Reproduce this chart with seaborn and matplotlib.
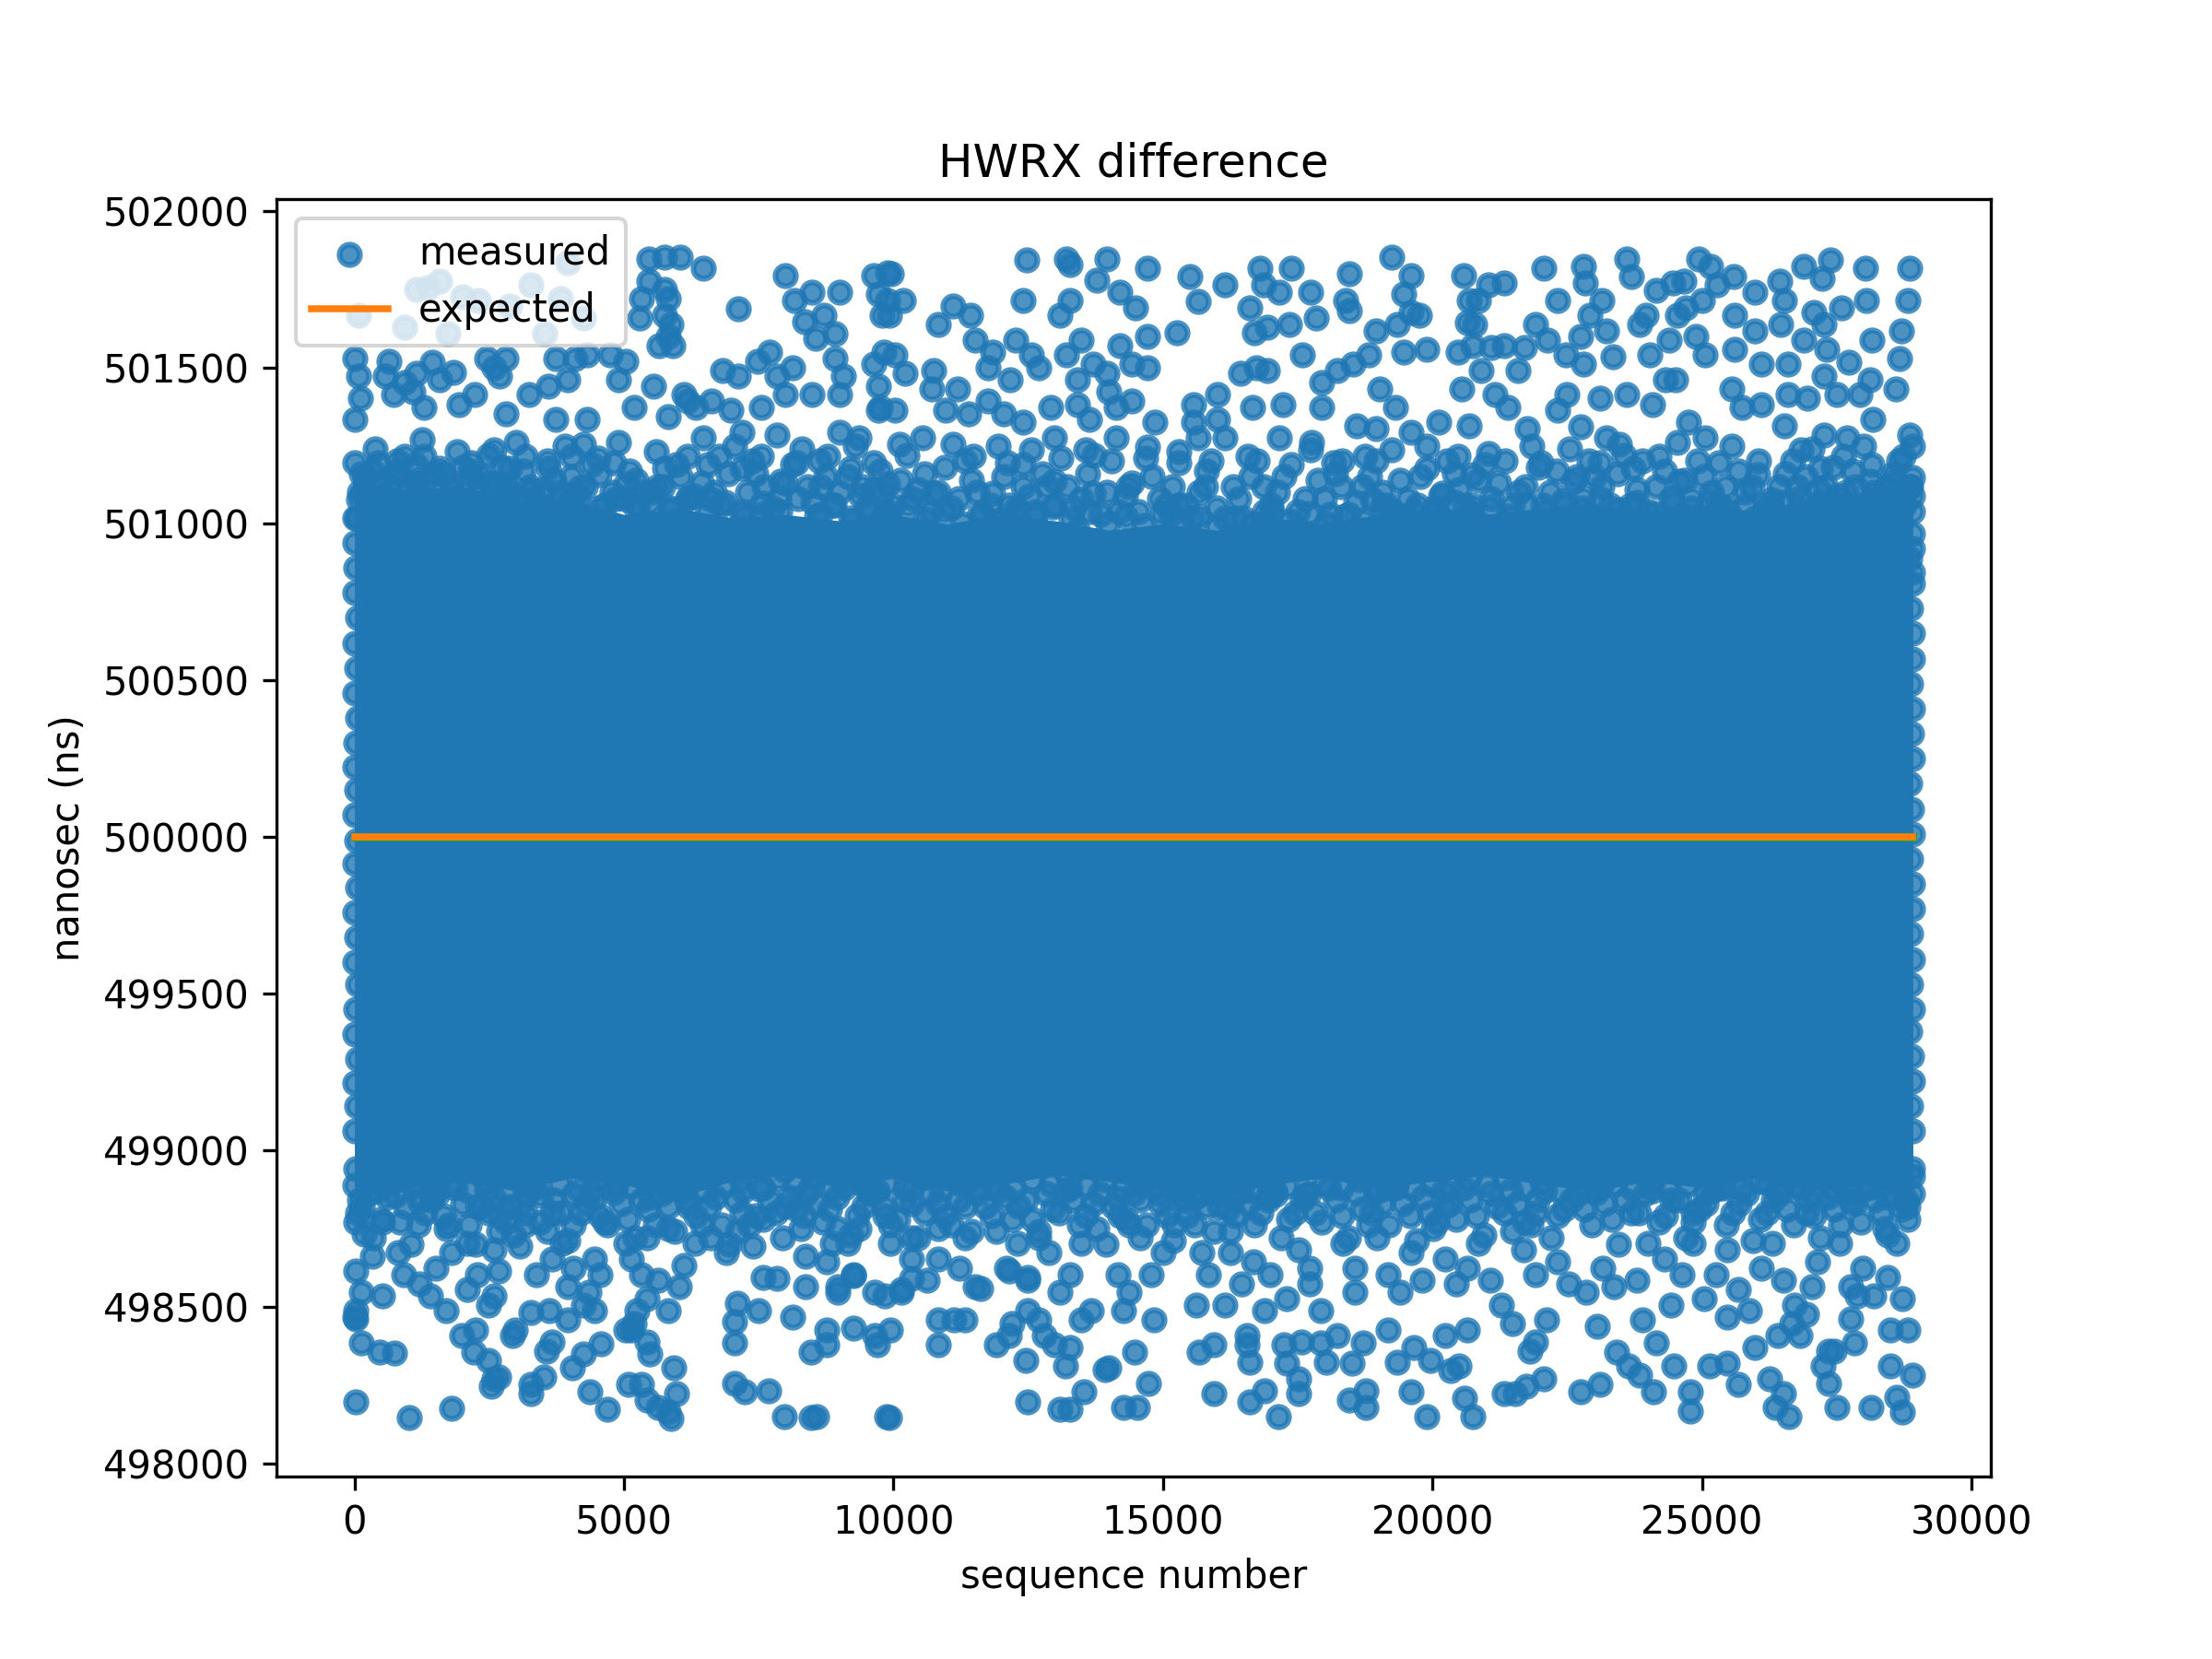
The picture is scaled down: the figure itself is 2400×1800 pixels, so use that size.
import pandas as pd
import seaborn as sns
import matplotlib.pyplot as plt

# HWRX difference: ~28900 samples.
# The solid middle of the cloud is kept as an envelope (seq, low, high),
# the loose points around it as (seq, ns) pairs.

core_seq = [0, 1000, 2000, 3000, 4000, 5000, 6000, 7000, 8000, 9000,
            10000, 11000, 12000, 13000, 14000, 15000, 16000, 17000, 18000,
            19000, 20000, 21000, 22000, 23000, 24000, 25000, 26000, 27000,
            28000, 28915]
core_high = [501130, 501110, 501120, 501070, 501080, 501030, 501050, 501020,
             501030, 501010, 501030, 501000, 501030, 501010, 500980, 501000,
             500980, 501020, 501000, 501030, 501050, 501030, 501050, 501060,
             501040, 501060, 501040, 501080, 501100, 501120]
core_low = [498850, 498880, 498900, 498870, 498910, 498890, 498850, 498900,
            498920, 498880, 498910, 498870, 498890, 498920, 498900, 498870,
            498850, 498890, 498910, 498880, 498900, 498920, 498890, 498870,
            498900, 498880, 498910, 498870, 498890, 498850]

top_sparse = [
    (5469, 501847), (5757, 501852), (6045, 501852), (6477, 501818),
    (5469, 501774), (5757, 501750), (5829, 501720), (5325, 501720),
    (5289, 501657), (5757, 501666), (5865, 501637), (5829, 501598),
    (5649, 501568), (5901, 501568), (7124, 501686), (7988, 501794),
    (8168, 501715), (8492, 501740), (8996, 501740), (8348, 501647),
    (8708, 501666), (8564, 501593), (8924, 501608), (9643, 501794),
    (9715, 501735), (9787, 501666), (1583, 501774), (1151, 501750),
    (1367, 501754), (2015, 501725), (2302, 501715), (2878, 501696),
    (3274, 501764), (3814, 501720), (71, 501666), (935, 501627),
    (1727, 501608), (3526, 501608), (4246, 501657), (3958, 501833),
    (12482, 501843), (13202, 501847), (13274, 501828), (13957, 501847),
    (14713, 501818), (15505, 501789), (16152, 501764), (16800, 501818),
    (17376, 501818), (18455, 501798), (19247, 501852), (19607, 501794),
    (20578, 501794), (12410, 501715), (13274, 501715), (13094, 501666),
    (13777, 501779), (14209, 501740), (14497, 501691), (15649, 501710),
    (17160, 501740), (16872, 501764), (17736, 501740), (17843, 501657),
    (18383, 501715), (18455, 501681), (19463, 501735), (19607, 501676),
    (20686, 501715), (20650, 501642), (9891, 501803), (9963, 501798),
    (9891, 501715), (10179, 501715), (9927, 501666), (10827, 501637),
    (11114, 501696), (11438, 501666), (15253, 501612), (16620, 501691),
    (16692, 501612), (16944, 501627), (17340, 501637), (18959, 501617),
    (19355, 501637), (19751, 501666), (22072, 501818), (22805, 501823),
    (23599, 501847), (23691, 501789), (24943, 501847), (25157, 501823),
    (25584, 501789), (25981, 501740), (26439, 501774), (26897, 501823),
    (27386, 501843), (27233, 501784), (28027, 501818), (28851, 501818),
    (28057, 501715), (28821, 501715), (22317, 501715), (22836, 501769),
    (23141, 501715), (24149, 501745), (24454, 501769), (24668, 501774),
    (25004, 501715), (25279, 501764), (26531, 501715), (27080, 501676),
    (27599, 501691), (25615, 501666), (23844, 501637), (23966, 501666),
    (24546, 501666), (24698, 501691), (22927, 501666), (21920, 501637),
    (20851, 501715), (21034, 501764), (21340, 501769), (20790, 501637),
]

top_mid = [
    (0, 501529), (71, 501471), (107, 501402), (0, 501334), (647, 501520),
    (575, 501471), (719, 501412), (935, 501451), (1439, 501515),
    (1835, 501485), (1583, 501461), (1151, 501480), (1079, 501422),
    (1295, 501373), (2446, 501529), (2590, 501500), (2806, 501529),
    (2698, 501471), (1943, 501382), (2231, 501412), (3238, 501412),
    (3598, 501441), (3958, 501461), (3742, 501529), (4102, 501529),
    (4318, 501539), (4749, 501539), (5037, 501520), (4893, 501461),
    (5541, 501441), (6117, 501412), (6333, 501373), (6621, 501392),
    (6980, 501363), (6837, 501490), (7124, 501471), (7484, 501520),
    (7700, 501549), (7844, 501471), (7988, 501412), (7556, 501373),
    (8132, 501500), (8924, 501529), (9068, 501471), (8996, 501412),
    (8492, 501412), (9643, 501510), (9715, 501441), (9715, 501363),
    (4318, 501334), (3742, 501334), (2806, 501353), (5181, 501373),
    (5829, 501343), (6189, 501392), (7196, 501294), (7844, 501285),
    (8996, 501294), (9356, 501275), (9819, 501549), (10035, 501539),
    (10215, 501480), (10755, 501490), (10719, 501431), (11186, 501431),
    (11510, 501588), (11834, 501549), (11762, 501500), (12266, 501588),
    (12554, 501539), (12158, 501461), (12698, 501500), (13202, 501539),
    (13489, 501588), (13705, 501510), (13417, 501461), (13993, 501422),
    (14209, 501568), (14713, 501598), (14425, 501510), (14713, 501500),
    (13957, 501480), (15577, 501382), (16008, 501412), (16440, 501480),
    (16728, 501500), (16944, 501490), (17592, 501539), (17951, 501451),
    (18239, 501490), (18527, 501510), (18815, 501539), (19031, 501431),
    (19319, 501373), (19463, 501549), (19895, 501559), (20471, 501549),
    (20758, 501568), (20543, 501431), (9747, 501373), (10035, 501363),
    (10970, 501363), (11402, 501353), (11762, 501392), (12050, 501353),
    (12410, 501324), (12914, 501373), (13417, 501382), (13633, 501334),
    (14137, 501373), (14425, 501392), (14857, 501324), (15577, 501324),
    (16008, 501334), (16656, 501373), (17232, 501382), (17951, 501373),
    (18599, 501314), (18959, 501304), (19607, 501294), (20111, 501324),
    (20686, 501314), (22134, 501588), (22469, 501539), (22805, 501510),
    (22744, 501598), (23233, 501617), (23355, 501534), (21095, 501564),
    (21340, 501568), (21706, 501564), (20912, 501490), (21584, 501490),
    (24027, 501539), (24393, 501588), (24332, 501461), (24515, 501461),
    (24882, 501598), (25065, 501539), (25615, 501559), (25981, 501617),
    (26103, 501510), (26470, 501637), (26592, 501510), (26897, 501588),
    (27263, 501637), (27324, 501559), (27721, 501515), (28149, 501588),
    (28699, 501617), (28668, 501529), (28118, 501461), (28607, 501431),
    (27263, 501471), (25553, 501431), (25737, 501373), (26103, 501382),
    (26592, 501412), (26958, 501402), (27508, 501412), (27935, 501412),
    (28180, 501334), (28851, 501285), (22500, 501412), (22317, 501363),
    (22744, 501309), (23233, 501275), (23477, 501255), (23111, 501402),
    (23599, 501412), (24088, 501382), (24760, 501324), (25065, 501275),
    (26531, 501314), (26836, 501236), (27263, 501285), (27691, 501275),
    (21156, 501412), (21401, 501373), (21767, 501304),
]

top_band = [
    (0, 501196), (215, 501128), (71, 501079), (0, 501020), (431, 501196),
    (719, 501157), (935, 501216), (1295, 501216), (1151, 501128),
    (1583, 501177), (1799, 501079), (2159, 501196), (2302, 501128),
    (2590, 501236), (2878, 501177), (3166, 501216), (3598, 501177),
    (3310, 501108), (4030, 501216), (4246, 501255), (4534, 501157),
    (4821, 501196), (5037, 501128), (5253, 501060), (5613, 501118),
    (5757, 501177), (6189, 501216), (6477, 501275), (6765, 501216),
    (7196, 501177), (7556, 501216), (7916, 501138), (8204, 501196),
    (8636, 501118), (8780, 501216), (9212, 501177), (9427, 501118),
    (9643, 501196), (9787, 501099), (575, 501060), (1439, 501020),
    (2878, 501079), (4030, 501079), (6621, 501079), (7556, 501030),
    (8636, 501030), (9212, 501020), (6117, 501001), (719, 500981),
    (2159, 500981), (10107, 501255), (10539, 501275), (11114, 501255),
    (11474, 501216), (12122, 501196), (12554, 501236), (12986, 501275),
    (13561, 501236), (14137, 501275), (14713, 501245), (15289, 501196),
    (15649, 501275), (16152, 501275), (16584, 501216), (17160, 501275),
    (17736, 501236), (18167, 501196), (18743, 501216), (19247, 501236),
    (19895, 501177), (20471, 501216), (9891, 501128), (10755, 501099),
    (11834, 501099), (12410, 501118), (12986, 501138), (13705, 501099),
    (14353, 501118), (15289, 501060), (15792, 501118), (16872, 501118),
    (18311, 501118), (18887, 501079), (20183, 501099), (20758, 501157),
    (10395, 500981), (11690, 500932), (13417, 500981), (15145, 501030),
    (16872, 501001), (18527, 500981), (20327, 501001), (21034, 501226),
    (22011, 501196), (22622, 501138), (23111, 501196), (23721, 501177),
    (24210, 501216), (24576, 501138), (25309, 501196), (25431, 501118),
    (26042, 501157), (26286, 501079), (26775, 501118), (27202, 501177),
    (27629, 501216), (28118, 501138), (28485, 501079), (28729, 501216),
    (24454, 501001), (22927, 501030), (25981, 501020), (27202, 500981),
    (28118, 500981), (28912, 501147), (28912, 501089), (28912, 501040),
    (28912, 500922), (28912, 500844),
]

top_fill = [
    (200, 501150), (380, 501240), (560, 501090), (800, 501200),
    (1000, 501110), (1250, 501270), (1400, 501080), (1650, 501160),
    (1900, 501230), (2050, 501100), (2350, 501150), (2600, 501070),
    (2750, 501180), (3000, 501260), (3250, 501120), (3450, 501060),
    (3700, 501140), (3900, 501250), (4150, 501090), (4400, 501190),
    (4650, 501060), (4900, 501260), (5100, 501170), (5350, 501100),
    (5600, 501230), (5850, 501050), (6050, 501150), (6300, 501090),
    (6550, 501190), (6800, 501060), (7050, 501250), (7300, 501100),
    (7450, 501160), (7750, 501050), (8000, 501130), (8300, 501240),
    (8500, 501070), (8750, 501150), (9000, 501100), (9300, 501250),
    (9500, 501050), (9750, 501170), (10000, 501060), (10250, 501220),
    (10450, 501110), (10700, 501040), (10950, 501180), (11200, 501080),
    (11450, 501140), (11650, 501030), (11950, 501250), (12150, 501060),
    (12400, 501190), (12650, 501040), (12850, 501120), (13100, 501210),
    (13350, 501050), (13600, 501160), (13850, 501030), (14050, 501200),
    (14300, 501090), (14550, 501040), (14800, 501150), (15050, 501060),
    (15300, 501230), (15550, 501020), (15800, 501170), (16000, 501050),
    (16300, 501120), (16500, 501020), (16750, 501200), (17000, 501060),
    (17250, 501150), (17500, 501040), (17750, 501260), (18000, 501080),
    (18200, 501160), (18450, 501030), (18700, 501120), (18950, 501200),
    (19150, 501060), (19400, 501140), (19650, 501040), (19900, 501250),
    (20150, 501090), (20400, 501160), (20600, 501060), (20850, 501140),
    (21100, 501080), (21350, 501200), (21600, 501100), (21850, 501250),
    (22050, 501060), (22300, 501170), (22550, 501240), (22800, 501080),
    (23000, 501150), (23300, 501060), (23550, 501220), (23800, 501110),
    (24000, 501040), (24300, 501170), (24550, 501260), (24800, 501080),
    (25050, 501150), (25300, 501060), (25550, 501250), (25800, 501100),
    (26050, 501200), (26300, 501050), (26550, 501160), (26800, 501080),
    (27050, 501240), (27300, 501120), (27550, 501060), (27800, 501170),
    (28000, 501250), (28300, 501080), (28550, 501160), (28750, 501060),
    (28915, 501250),
]

top_fill2 = [
    (100, 501100), (330, 501170), (680, 501120), (920, 501060),
    (1130, 501190), (1330, 501130), (1530, 501070), (1780, 501110),
    (2000, 501180), (2200, 501060), (2480, 501220), (2680, 501130),
    (2880, 501100), (3130, 501170), (3350, 501070), (3580, 501200),
    (3800, 501100), (4030, 501150), (4280, 501120), (4530, 501210),
    (4780, 501100), (5000, 501080), (5230, 501140), (5480, 501070),
    (5720, 501120), (5980, 501190), (6180, 501080), (6430, 501130),
    (6680, 501100), (6930, 501160), (7180, 501040), (7380, 501200),
    (7600, 501120), (7880, 501080), (8130, 501190), (8400, 501120),
    (8630, 501200), (8880, 501060), (9150, 501150), (9400, 501090),
    (9630, 501110), (9880, 501040), (10130, 501140), (10350, 501080),
    (10580, 501160), (10830, 501100), (11080, 501050), (11330, 501200),
    (11550, 501100), (11800, 501060), (12050, 501150), (12280, 501030),
    (12530, 501090), (12760, 501160), (12980, 501060), (13230, 501120),
    (13480, 501080), (13730, 501220), (13960, 501100), (14180, 501040),
    (14430, 501130), (14680, 501210), (14930, 501080), (15180, 501120),
    (15430, 501060), (15680, 501100), (15900, 501200), (16150, 501020),
    (16400, 501080), (16630, 501150), (16880, 501040), (17130, 501100),
    (17380, 501190), (17630, 501080), (17880, 501140), (18100, 501030),
    (18330, 501200), (18580, 501070), (18830, 501150), (19080, 501100),
    (19280, 501040), (19530, 501080), (19780, 501150), (20030, 501050),
    (20280, 501200), (20500, 501110), (20730, 501060), (20980, 501190),
    (21230, 501130), (21480, 501060), (21730, 501120), (21960, 501180),
    (22180, 501100), (22430, 501060), (22680, 501150), (22900, 501200),
    (23150, 501120), (23430, 501160), (23680, 501060), (23900, 501200),
    (24150, 501120), (24430, 501080), (24680, 501140), (24930, 501200),
    (25180, 501100), (25430, 501050), (25680, 501170), (25930, 501120),
    (26180, 501060), (26430, 501120), (26680, 501200), (26930, 501150),
    (27180, 501070), (27430, 501180), (27680, 501100), (27900, 501050),
    (28150, 501190), (28430, 501120), (28650, 501200), (28880, 501120),
]

top_edge = [
    (120, 501160), (450, 501130), (800, 501170), (1130, 501140),
    (1480, 501160), (1800, 501120), (2150, 501170), (2480, 501130),
    (2820, 501120), (3150, 501080), (3500, 501110), (3830, 501085),
    (4180, 501115), (4520, 501050), (4850, 501080), (5190, 501060),
    (5530, 501100), (5870, 501045), (6200, 501085), (6540, 501035),
    (6880, 501070), (7220, 501025), (7560, 501065), (7890, 501040),
    (8230, 501080), (8570, 501025), (8900, 501060), (9250, 501010),
    (9580, 501045), (9920, 501020), (10260, 501060), (10600, 501015),
    (10930, 501040), (11270, 501000), (11610, 501035), (11950, 501010),
    (12290, 501050), (12620, 501025), (12960, 501055), (13300, 501015),
    (13640, 501040), (13980, 501000), (14310, 501025), (14650, 500995),
    (14990, 501035), (15330, 501005), (15670, 501025), (16000, 500990),
    (16340, 501020), (16680, 501000), (17020, 501040), (17350, 501010),
    (17700, 501035), (18030, 501000), (18370, 501025), (18710, 501010),
    (19050, 501050), (19390, 501020), (19720, 501060), (20060, 501040),
    (20400, 501070), (20740, 501035), (21080, 501055), (21420, 501025),
    (21750, 501060), (22090, 501040), (22430, 501075), (22770, 501050),
    (23110, 501080), (23450, 501045), (23790, 501070), (24130, 501035),
    (24460, 501065), (24800, 501050), (25140, 501075), (25480, 501040),
    (25820, 501060), (26150, 501030), (26490, 501070), (26830, 501045),
    (27170, 501110), (27510, 501090), (27850, 501120), (28190, 501100),
    (28530, 501135), (28850, 501120),
]

bottom_sparse = [
    (32, 498197), (1014, 498145), (1799, 498175), (131, 498383),
    (474, 498354), (739, 498352), (32, 498461), (32, 498486), (523, 498535),
    (1701, 498486), (2241, 498427), (2212, 498354), (2486, 498329),
    (2585, 498271), (2683, 498276), (2535, 498246), (2928, 498408),
    (2977, 498427), (3272, 498481), (3615, 498486), (3959, 498457),
    (3272, 498251), (3517, 498276), (3272, 498222), (3566, 498359),
    (3664, 498388), (4037, 498305), (4253, 498349), (4567, 498380),
    (4371, 498227), (4695, 498173), (5088, 498251), (5333, 498251),
    (5431, 498202), (5628, 498178), (5824, 498163), (5873, 498143),
    (5971, 498222), (5922, 498305), (5480, 498349), (5039, 498427),
    (5186, 498447), (7100, 498510), (7493, 498486), (7051, 498452),
    (7051, 498383), (7051, 498256), (7247, 498227), (7689, 498231),
    (7983, 498148), (8474, 498145), (8572, 498148), (8131, 498466),
    (8474, 498354), (8769, 498427), (9259, 498432), (8769, 498378),
    (9701, 498378), (9947, 498427), (9848, 498535), (9927, 498145),
    (9880, 498150), (7591, 498594), (7836, 498589), (8376, 498564),
    (8965, 498545), (9259, 498599), (10830, 498457), (11124, 498457),
    (11321, 498457), (10830, 498378), (11910, 498378), (12155, 498408),
    (12450, 498329), (12499, 498486), (12695, 498457), (12990, 498378),
    (13186, 498310), (13284, 498369), (12499, 498197), (13088, 498173),
    (13284, 498173), (13529, 498227), (13922, 498300), (12155, 498613),
    (12499, 498594), (11615, 498559), (10339, 498589), (10143, 498545),
    (9652, 498408), (14264, 498178), (14526, 498178), (14735, 498256),
    (14474, 498354), (14002, 498305), (14840, 498457), (15678, 498354),
    (15939, 498378), (15939, 498222), (16620, 498197), (16882, 498231),
    (17143, 498148), (16620, 498324), (16568, 498378), (17248, 498378),
    (17562, 498388), (17929, 498383), (18243, 498408), (18714, 498383),
    (18504, 498320), (18033, 498324), (17300, 498320), (17510, 498271),
    (17510, 498222), (18452, 498202), (18766, 498231), (18766, 498178),
    (19604, 498227), (19897, 498148), (19342, 498324), (19656, 498369),
    (19970, 498329), (20337, 498295), (20494, 498310), (20598, 498207),
    (20756, 498148), (21331, 498222), (21541, 498222), (21750, 498246),
    (22064, 498271), (21803, 498359), (21907, 498388), (22745, 498227),
    (23111, 498251), (23425, 498354), (23635, 498310), (23844, 498280),
    (24106, 498227), (24158, 498383), (24472, 498310), (24786, 498227),
    (24786, 498168), (25153, 498310), (25467, 498320), (25676, 498251),
    (25991, 498369), (26252, 498271), (26357, 498178), (26619, 498148),
    (26514, 498222), (27247, 498310), (27352, 498256), (27509, 498178),
    (27456, 498359), (27823, 498383), (28137, 498178), (28503, 498310),
    (28608, 498212), (28713, 498163), (28910, 498280), (28451, 498594),
    (27875, 498535), (28189, 498535), (28713, 498525), (28503, 498427),
    (28817, 498427), (27770, 498461), (26933, 498476), (26671, 498447),
]

bottom_band = [
    (0, 498887), (32, 498770), (180, 498731), (32, 498613), (131, 498545),
    (0, 498466), (327, 498662), (818, 498672), (523, 498770), (1112, 498897),
    (1210, 498838), (916, 498603), (1210, 498574), (1407, 498535),
    (1505, 498623), (1799, 498672), (1701, 498750), (2290, 498819),
    (2486, 498799), (2879, 498819), (3174, 498799), (2683, 498740),
    (3174, 498760), (2094, 498701), (2585, 498682), (3075, 498692),
    (2290, 498603), (2683, 498613), (2094, 498554), (2486, 498506),
    (1996, 498408), (2585, 498535), (3370, 498603), (3664, 498652),
    (4057, 498623), (3861, 498701), (3664, 498799), (4057, 498858),
    (4450, 498848), (4646, 498770), (4842, 498887), (4450, 498652),
    (4548, 498603), (4253, 498506), (4351, 498545), (3959, 498564),
    (4450, 498486), (5039, 498701), (5137, 498652), (5431, 498721),
    (5333, 498603), (5628, 498584), (5431, 498525), (5824, 498486),
    (5235, 498486), (5137, 498427), (5431, 498388), (6020, 498564),
    (6118, 498633), (5824, 498750), (6315, 498701), (6609, 498721),
    (6904, 498672), (7198, 498799), (7100, 498740), (7394, 498692),
    (7591, 498780), (7983, 498819), (8278, 498750), (8376, 498662),
    (8867, 498701), (8965, 498750), (8769, 498643), (9161, 498701),
    (9358, 498750), (9848, 498790), (9259, 498603), (8965, 498564),
    (9652, 498545), (10143, 498554), (10339, 498652), (9947, 498701),
    (10339, 498721), (10830, 498750), (11321, 498721), (10830, 498652),
    (11223, 498623), (10634, 498584), (11517, 498564), (11910, 498740),
    (12106, 498623), (12302, 498701), (12695, 498740), (12891, 498672),
    (13284, 498603), (13480, 498701), (13775, 498750), (12499, 498584),
    (13088, 498545), (13677, 498486), (12204, 498447), (12793, 498408),
    (13480, 498457), (7983, 498936), (9358, 498897), (11321, 498897),
    (13284, 498878), (5431, 498897), (1505, 498897), (10339, 498829),
    (8376, 498858), (14159, 498848), (14369, 498760), (14578, 498721),
    (14159, 498603), (14369, 498545), (14264, 498486), (14997, 498672),
    (15206, 498760), (15416, 498838), (15730, 498672), (15835, 498603),
    (16253, 498740), (16253, 498672), (16149, 498506), (16463, 498574),
    (16672, 498643), (16986, 498603), (17300, 498525), (16882, 498486),
    (17510, 498682), (17719, 498623), (17719, 498574), (17929, 498486),
    (18347, 498701), (18557, 498623), (18557, 498545), (18976, 498721),
    (18871, 498799), (19185, 498603), (19394, 498545), (19604, 498672),
    (19813, 498584), (20023, 498750), (20232, 498652), (20441, 498574),
    (20860, 498701), (20651, 498623), (21070, 498584), (21279, 498506),
    (21488, 498740), (21698, 498682), (21907, 498603), (22117, 498457),
    (22326, 498643), (22535, 498574), (22850, 498545), (23164, 498623),
    (23373, 498564), (23792, 498584), (24001, 498701), (24315, 498652),
    (24629, 498603), (24839, 498701), (25048, 498525), (25258, 498603),
    (25467, 498682), (25676, 498554), (25886, 498486), (26095, 498623),
    (26305, 498701), (26514, 498584), (26723, 498506), (27038, 498564),
    (27142, 498643), (27561, 498701), (27770, 498564), (27980, 498623),
    (28399, 498750), (28608, 498701), (28817, 498819), (28910, 498917),
    (28608, 498897), (26200, 498897), (23164, 498897), (19185, 498878),
    (17091, 498858), (27770, 498838), (24839, 498799), (21907, 498799),
    (20232, 498819), (16044, 498819), (26933, 498799), (24420, 498506),
    (23897, 498457), (23059, 498437), (21488, 498447), (20651, 498427),
    (20232, 498408), (19185, 498427), (16568, 498408), (14788, 498603),
    (15625, 498506), (25467, 498466), (26409, 498408), (26828, 498408),
    (27352, 498359),
]

bottom_fill = [
    (150, 498820), (350, 498720), (600, 498850), (850, 498770),
    (1050, 498700), (1300, 498800), (1550, 498860), (1750, 498760),
    (2000, 498830), (2250, 498700), (2450, 498870), (2700, 498790),
    (2950, 498730), (3200, 498860), (3450, 498770), (3700, 498840),
    (3950, 498710), (4200, 498800), (4400, 498870), (4700, 498760),
    (4950, 498830), (5200, 498720), (5450, 498810), (5700, 498860),
    (5950, 498740), (6200, 498820), (6450, 498760), (6700, 498850),
    (6950, 498700), (7200, 498870), (7450, 498790), (7700, 498840),
    (7950, 498720), (8200, 498810), (8450, 498880), (8700, 498770),
    (8950, 498850), (9200, 498730), (9450, 498820), (9700, 498870),
    (9950, 498760), (10200, 498840), (10450, 498720), (10700, 498860),
    (10950, 498790), (11200, 498840), (11450, 498740), (11700, 498820),
    (11950, 498870), (12200, 498780), (12450, 498840), (12700, 498720),
    (12950, 498810), (13200, 498870), (13450, 498760), (13700, 498830),
    (13950, 498700), (14200, 498790), (14450, 498860), (14700, 498760),
    (14950, 498830), (15200, 498710), (15450, 498790), (15700, 498860),
    (15950, 498740), (16200, 498810), (16450, 498870), (16700, 498760),
    (16950, 498840), (17200, 498720), (17450, 498800), (17700, 498860),
    (17950, 498770), (18200, 498840), (18450, 498720), (18700, 498810),
    (18950, 498870), (19200, 498760), (19450, 498830), (19700, 498710),
    (19950, 498800), (20200, 498870), (20450, 498780), (20700, 498840),
    (20950, 498730), (21200, 498820), (21450, 498870), (21700, 498770),
    (21950, 498840), (22200, 498720), (22450, 498810), (22700, 498860),
    (22950, 498760), (23200, 498830), (23450, 498700), (23700, 498800),
    (23950, 498860), (24200, 498770), (24450, 498840), (24700, 498720),
    (24950, 498810), (25200, 498870), (25450, 498760), (25700, 498830),
    (25950, 498710), (26200, 498800), (26450, 498860), (26700, 498760),
    (26950, 498840), (27200, 498720), (27450, 498810), (27700, 498870),
    (27950, 498770), (28200, 498840), (28450, 498730), (28700, 498810),
    (28900, 498860),
]

bottom_fill2 = [
    (60, 498800), (260, 498860), (480, 498780), (720, 498900),
    (950, 498820), (1180, 498760), (1420, 498840), (1650, 498790),
    (1880, 498880), (2120, 498760), (2350, 498820), (2580, 498850),
    (2820, 498770), (3080, 498830), (3330, 498880), (3580, 498740),
    (3820, 498800), (4060, 498760), (4300, 498830), (4560, 498790),
    (4830, 498880), (5070, 498780), (5320, 498840), (5580, 498760),
    (5820, 498820), (6080, 498870), (6330, 498790), (6580, 498820),
    (6820, 498760), (7070, 498840), (7330, 498760), (7580, 498880),
    (7830, 498800), (8080, 498850), (8330, 498790), (8580, 498830),
    (8820, 498810), (9080, 498880), (9330, 498790), (9580, 498860),
    (9830, 498820), (10080, 498780), (10330, 498880), (10580, 498800),
    (10820, 498830), (11080, 498760), (11330, 498820), (11570, 498880),
    (11820, 498790), (12080, 498850), (12320, 498820), (12580, 498780),
    (12830, 498860), (13080, 498800), (13330, 498840), (13570, 498790),
    (13830, 498860), (14080, 498820), (14320, 498780), (14580, 498840),
    (14830, 498880), (15080, 498790), (15330, 498850), (15580, 498760),
    (15830, 498820), (16080, 498870), (16330, 498790), (16580, 498830),
    (16820, 498800), (17080, 498870), (17330, 498780), (17580, 498840),
    (17820, 498800), (18080, 498880), (18330, 498790), (18580, 498860),
    (18820, 498760), (19080, 498830), (19320, 498880), (19580, 498790),
    (19820, 498850), (20080, 498770), (20320, 498830), (20580, 498880),
    (20820, 498790), (21080, 498860), (21330, 498800), (21570, 498830),
    (21820, 498760), (22080, 498870), (22330, 498790), (22580, 498840),
    (22820, 498810), (23080, 498880), (23330, 498780), (23580, 498840),
    (23830, 498800), (24080, 498870), (24330, 498790), (24580, 498840),
    (24830, 498770), (25080, 498830), (25320, 498880), (25580, 498800),
    (25830, 498860), (26080, 498780), (26330, 498840), (26580, 498810),
    (26830, 498880), (27080, 498790), (27330, 498850), (27580, 498760),
    (27830, 498830), (28080, 498880), (28330, 498800), (28580, 498850),
    (28830, 498780),
]

bottom_edge = [
    (90, 498840), (420, 498870), (760, 498855), (1100, 498885),
    (1440, 498860), (1770, 498895), (2110, 498870), (2450, 498900),
    (2790, 498865), (3130, 498890), (3460, 498855), (3800, 498895),
    (4140, 498875), (4480, 498905), (4810, 498865), (5150, 498885),
    (5490, 498850), (5830, 498875), (6160, 498840), (6500, 498870),
    (6840, 498885), (7180, 498905), (7510, 498875), (7850, 498910),
    (8190, 498890), (8530, 498915), (8860, 498880), (9200, 498905),
    (9540, 498865), (9880, 498895), (10210, 498880), (10550, 498910),
    (10890, 498875), (11230, 498895), (11560, 498860), (11900, 498885),
    (12240, 498875), (12580, 498905), (12910, 498890), (13250, 498915),
    (13590, 498885), (13930, 498905), (14260, 498875), (14600, 498890),
    (14940, 498860), (15280, 498875), (15610, 498850), (15950, 498865),
    (16290, 498840), (16630, 498870), (16960, 498855), (17300, 498885),
    (17640, 498865), (17980, 498895), (18310, 498880), (18650, 498905),
    (18990, 498870), (19330, 498895), (19660, 498875), (20000, 498890),
    (20340, 498885), (20680, 498910), (21010, 498890), (21350, 498910),
    (21690, 498880), (22030, 498900), (22360, 498870), (22700, 498885),
    (23040, 498865), (23380, 498890), (23710, 498875), (24050, 498900),
    (24390, 498870), (24730, 498890), (25060, 498865), (25400, 498880),
    (25740, 498875), (26080, 498900), (26410, 498865), (26750, 498885),
    (27090, 498860), (27430, 498880), (27760, 498865), (28100, 498885),
    (28440, 498850), (28780, 498840),
]

side_points = [
    (20, 498940), (0, 499060), (45, 499140), (10, 499215), (55, 499290),
    (0, 499370), (30, 499450), (65, 499530), (5, 499600), (40, 499680),
    (15, 499760), (60, 499840), (0, 499915), (35, 499990), (10, 500070),
    (50, 500150), (0, 500225), (25, 500300), (60, 500380), (5, 500460),
    (40, 500540), (15, 500620), (55, 500700), (0, 500780), (30, 500860),
    (10, 500940), (45, 501020), (28900, 498940), (28915, 499060),
    (28870, 499140), (28915, 499220), (28890, 499300), (28860, 499380),
    (28915, 499450), (28880, 499530), (28915, 499610), (28865, 499690),
    (28905, 499770), (28915, 499850), (28875, 499930), (28915, 500010),
    (28895, 500090), (28860, 500170), (28915, 500250), (28885, 500330),
    (28915, 500410), (28870, 500490), (28910, 500570), (28915, 500650),
    (28880, 500730), (28915, 500810), (28860, 500890), (28915, 500970),
]

expected_seq = [0, 28915]
expected_ns = [500000, 500000]

blue = "#1f77b4"
orange = "#ff7f0e"
green = "#2ca02c"

measured = pd.DataFrame(
    top_sparse + top_mid + top_band + top_fill + top_fill2 + top_edge
    + bottom_sparse + bottom_band + bottom_fill + bottom_fill2
    + bottom_edge + side_points,
    columns=["seq", "ns"])

plt.rcParams["font.family"] = ["DejaVu Sans"]
fig, ax = plt.subplots(figsize=(8, 6), dpi=300)

# dense part of the cloud: overlapping points saturate to the plain colour
ax.fill_between(core_seq, core_low, core_high, color=blue, linewidth=0)
sns.scatterplot(data=measured, x="seq", y="ns", ax=ax, s=28, color=blue,
                edgecolor=blue, linewidth=1.5, alpha=0.8, label="measured")
# a second copy of the target line sits under the orange one
ax.plot(expected_seq, expected_ns, color=green, linewidth=2.2, zorder=1.9)
sns.lineplot(x=expected_seq, y=expected_ns, ax=ax, color=orange,
             linewidth=1.8, label="expected")

ax.set_title("HWRX difference")
ax.set_xlabel("sequence number")
ax.set_ylabel("nanosec (ns)")
ax.legend(loc="upper left")

fig.savefig("out.png", dpi=300)
